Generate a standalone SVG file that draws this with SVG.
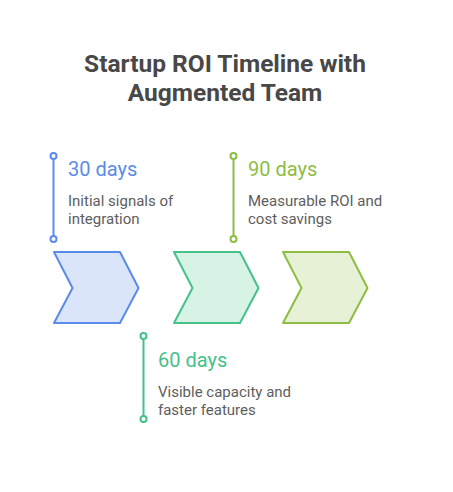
<svg xmlns="http://www.w3.org/2000/svg" width="453" height="492" viewBox="0 0 453 492">
<style>
.title{font-family:Roboto,"Liberation Sans",sans-serif;font-weight:700;font-size:24.5px;fill:#484848;text-anchor:middle}
.head{font-family:Roboto,"Liberation Sans",sans-serif;font-size:20px}
.desc{font-family:Roboto,"Liberation Sans",sans-serif;font-size:15px;fill:#5e5e5e}
.chev{stroke-width:2;stroke-linejoin:round}
.ln{stroke-width:2;fill:none}
.dot{stroke-width:2;fill:#ffffff}
.blue{stroke:#5b8bea}
.green{stroke:#45c18a}
.olive{stroke:#8dbd42}
</style>
<rect width="453" height="492" fill="#ffffff"/>
<g id="title">
<text class="title" x="225" y="72">Startup ROI Timeline with</text>
<text class="title" x="225" y="101">Augmented Team</text>
</g>
<g id="connectors">
<line class="ln blue" x1="53.5" y1="156" x2="53.5" y2="239"/>
<circle class="dot blue" cx="53.5" cy="156" r="3"/>
<circle class="dot blue" cx="53.5" cy="239" r="3"/>
<line class="ln green" x1="143.5" y1="336" x2="143.5" y2="419"/>
<circle class="dot green" cx="143.5" cy="336" r="3"/>
<circle class="dot green" cx="143.5" cy="419" r="3"/>
<line class="ln olive" x1="233.5" y1="156" x2="233.5" y2="239"/>
<circle class="dot olive" cx="233.5" cy="156" r="3"/>
<circle class="dot olive" cx="233.5" cy="239" r="3"/>
</g>
<g id="step1">
<polygon class="chev blue" fill="#dbe5f9" points="54,252 120,252 138.5,288 120,323 54,323 72.5,288"/>
<text class="head" x="68" y="175.5" fill="#5b8bea">30 days</text>
<text class="desc" x="68" y="206">Initial signals of</text>
<text class="desc" x="68" y="223.5">integration</text>
</g>
<g id="step2">
<polygon class="chev green" fill="#d6f3e5" points="174,252 240,252 258.5,288 240,323 174,323 192.5,288"/>
<text class="head" x="158" y="366.5" fill="#45c18a">60 days</text>
<text class="desc" x="158" y="397">Visible capacity and</text>
<text class="desc" x="158" y="414.5">faster features</text>
</g>
<g id="step3">
<polygon class="chev olive" fill="#e6f1d6" points="283,252 349,252 367.5,288 349,323 283,323 301.5,288"/>
<text class="head" x="248" y="175.5" fill="#8dbd42">90 days</text>
<text class="desc" x="248" y="206">Measurable ROI and</text>
<text class="desc" x="248" y="223.5">cost savings</text>
</g>
</svg>
